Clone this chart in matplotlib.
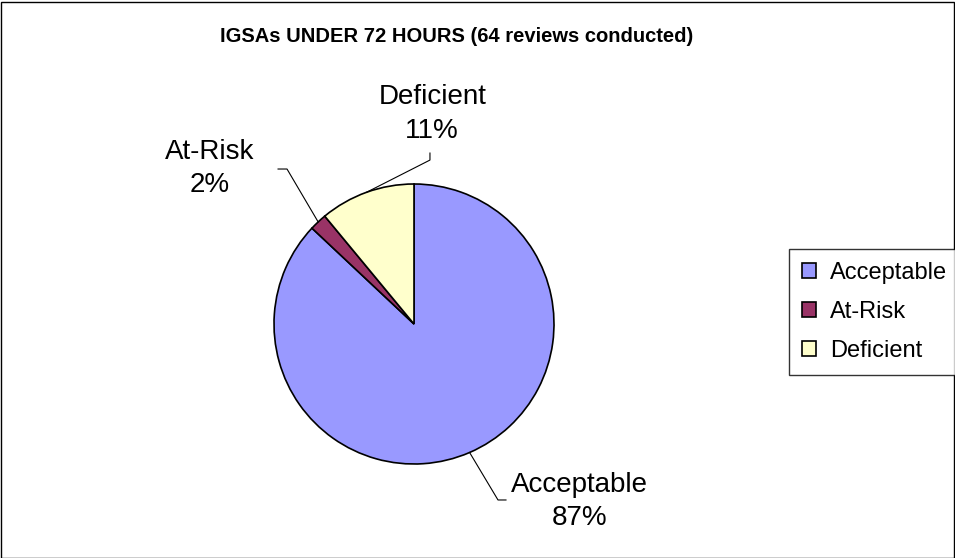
import numpy as np
import matplotlib.pyplot as plt
from matplotlib.patches import Rectangle

# Data (64 reviews conducted), shares in percent
categories = ["Acceptable", "At-Risk", "Deficient"]
percents = [87, 2, 11]
colors = ["#9999FF", "#993366", "#FFFFCC"]

# label text centres and leader elbow points (in pie radius units)
label_pos = [(1.18, -1.27), (-1.46, 1.11), (0.13, 1.50)]
elbow_pos = [[(0.60, -1.257), (0.657, -1.257)],
             [(-0.907, 1.107), (-0.971, 1.107)],
             [(0.114, 1.171), (0.114, 1.221)]]

plt.rcParams['font.family'] = ['Liberation Sans', 'DejaVu Sans']

W, H = 955, 558
fig = plt.figure(figsize=(W / 100, H / 100), dpi=100)

# outer border
fig.patches.append(Rectangle((0.5 / W, 0.5 / H), 1 - 2 / W, 1 - 2 / H,
                             transform=fig.transFigure, fill=False,
                             edgecolor="black", linewidth=1.0))

cx, cy, r = 414, H - 324, 140
ax = fig.add_axes([(cx - r) / W, (cy - r) / H, 2 * r / W, 2 * r / H])
wedges, _ = ax.pie(percents, colors=colors, startangle=90, counterclock=False,
                   radius=1.0, wedgeprops=dict(edgecolor="black", linewidth=1.2))
ax.set_xlim(-1, 1)
ax.set_ylim(-1, 1)
ax.set_aspect("equal")
ax.axis("off")

for w, name, pct, lp, el in zip(wedges, categories, percents, label_pos, elbow_pos):
    mid = np.deg2rad((w.theta1 + w.theta2) / 2)
    ex, ey = np.cos(mid), np.sin(mid)
    xs = [ex] + [p[0] for p in el]
    ys = [ey] + [p[1] for p in el]
    ax.plot(xs, ys, color="black", linewidth=0.8, clip_on=False)
    ax.text(lp[0], lp[1], f"{name}\n{pct}%", ha="center", va="center",
            fontsize=20, linespacing=1.35, clip_on=False)

fig.text(457 / W, 1 - 37 / H, "IGSAs UNDER 72 HOURS (64 reviews conducted)",
         ha="center", va="center", fontsize=14.5, fontweight="bold")

leg = fig.legend(wedges, categories, loc="upper left",
                 bbox_to_anchor=(789 / W, 1 - 249 / H), fontsize=17,
                 frameon=True, fancybox=False, shadow=False,
                 handlelength=0.6, handleheight=0.6, handletextpad=0.6,
                 labelspacing=0.72, borderpad=0.55, borderaxespad=0)
leg.get_frame().set_edgecolor("black")
leg.get_frame().set_linewidth(1.0)
for p in leg.get_patches():
    p.set_linewidth(1.2)

fig.savefig("out.png", dpi=100)
